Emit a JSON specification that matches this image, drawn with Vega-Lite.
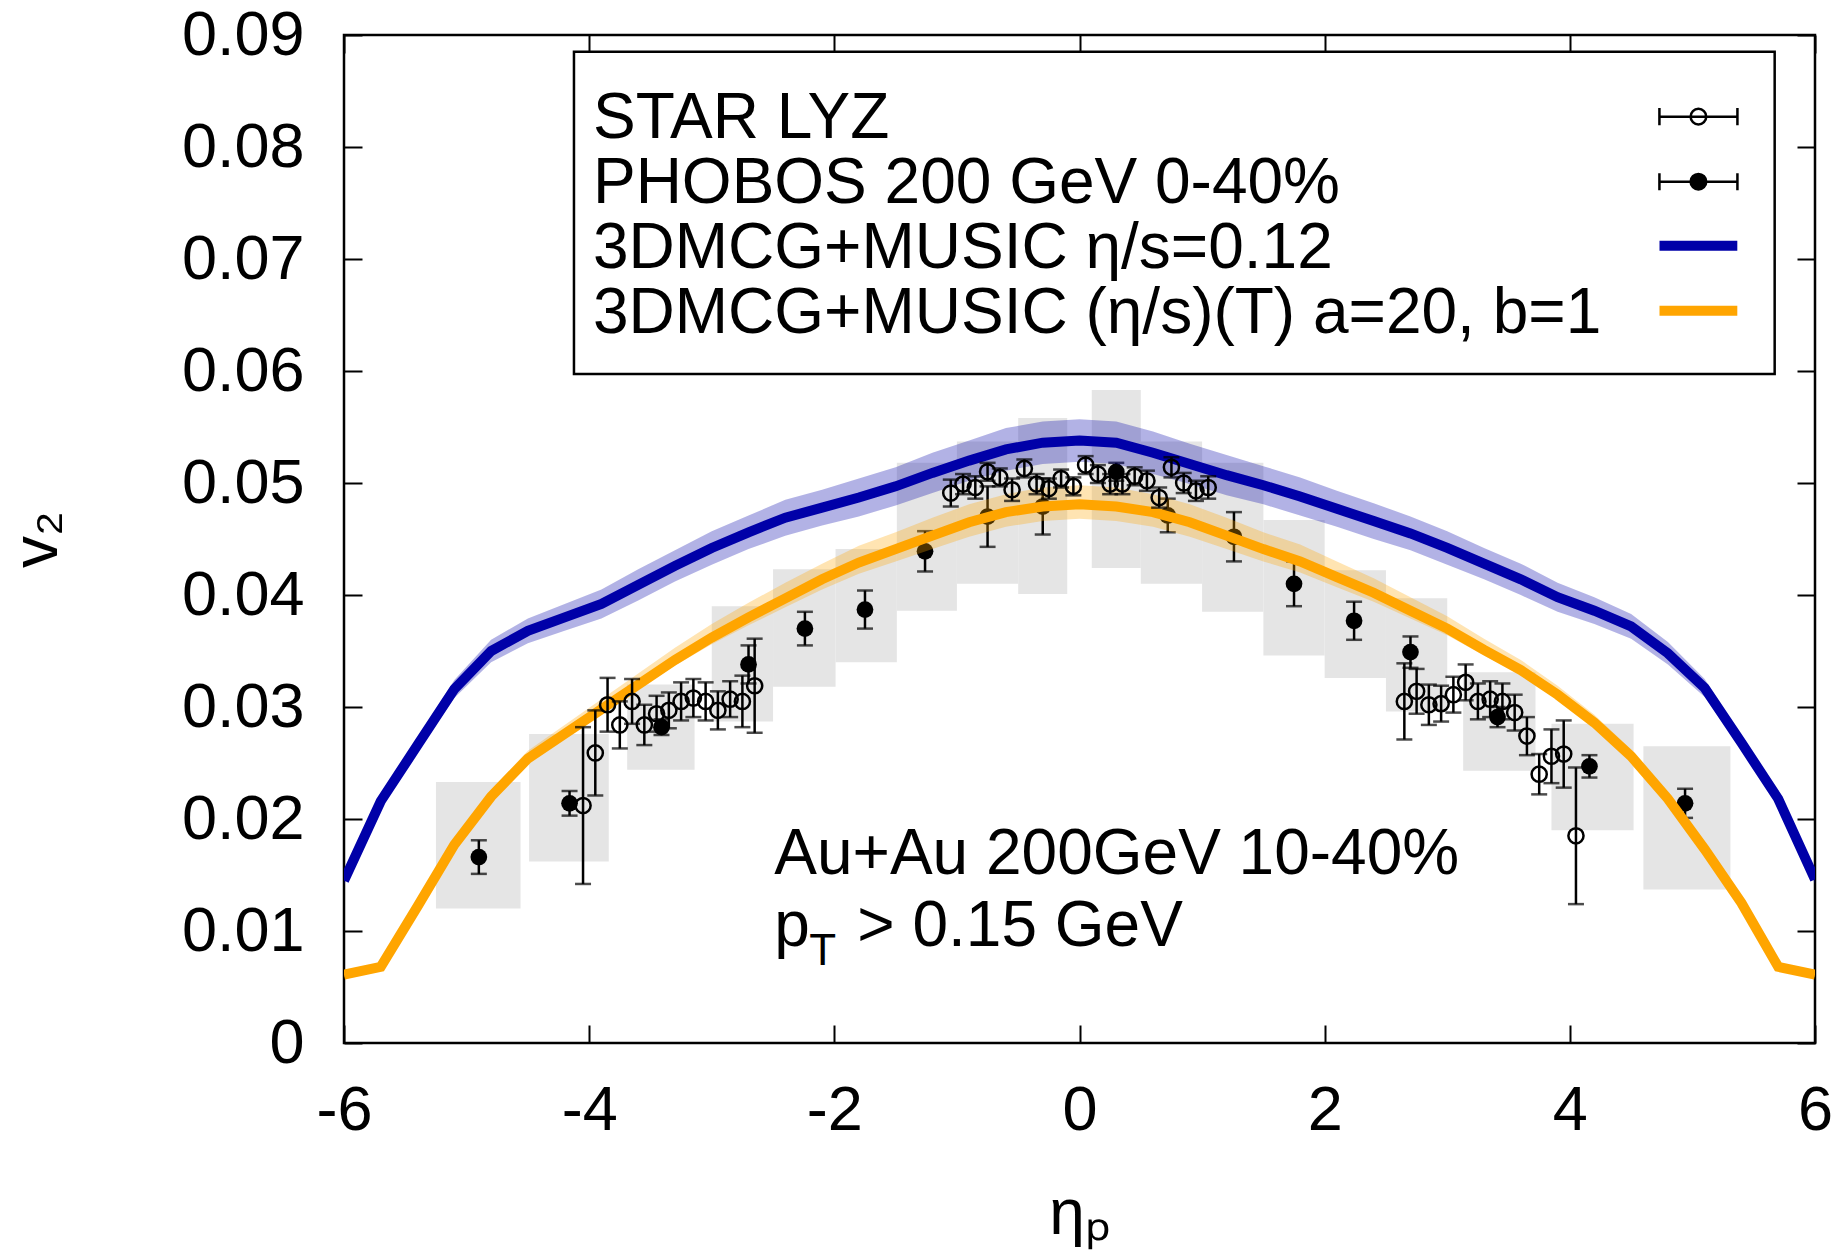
{
  "$schema": "https://vega.github.io/schema/vega-lite/v6.json",
  "width": 1471,
  "height": 1008,
  "autosize": {"type": "none"},
  "padding": {"left": 344, "top": 35, "right": 30, "bottom": 208},
  "background": "white",
  "config": {
    "font": "Liberation Sans",
    "view": {"stroke": "black", "strokeWidth": 2.5},
    "axis": {
      "grid": false, "domain": false, "tickColor": "black", "tickWidth": 2, "tickSize": -18,
      "labelColor": "black", "labelFont": "Liberation Sans", "labelFontSize": 63,
      "titleFont": "Liberation Sans", "titleFontSize": 64, "titleFontWeight": "normal", "titleColor": "black",
      "labelFlush": false, "labelOverlap": false
    }
  },
  "datasets": {
    "phobos": [
      {"eta": -4.90, "v2": 0.0166, "err": 0.0015, "sys_x_lo": -5.25, "sys_x_hi": -4.56, "sys_lo": 0.0120, "sys_hi": 0.0233},
      {"eta": -4.16, "v2": 0.0214, "err": 0.0011, "sys_x_lo": -4.49, "sys_x_hi": -3.84, "sys_lo": 0.0162, "sys_hi": 0.0276},
      {"eta": -3.41, "v2": 0.0282, "err": 0.0007, "sys_x_lo": -3.69, "sys_x_hi": -3.14, "sys_lo": 0.0244, "sys_hi": 0.0320},
      {"eta": -2.70, "v2": 0.0338, "err": 0.0017, "sys_x_lo": -3.00, "sys_x_hi": -2.50, "sys_lo": 0.0287, "sys_hi": 0.0390},
      {"eta": -2.24, "v2": 0.0370, "err": 0.0015, "sys_x_lo": -2.50, "sys_x_hi": -1.99, "sys_lo": 0.0318, "sys_hi": 0.0423},
      {"eta": -1.75, "v2": 0.0387, "err": 0.0017, "sys_x_lo": -1.99, "sys_x_hi": -1.49, "sys_lo": 0.0340, "sys_hi": 0.0441},
      {"eta": -1.26, "v2": 0.0439, "err": 0.0018, "sys_x_lo": -1.49, "sys_x_hi": -1.00, "sys_lo": 0.0386, "sys_hi": 0.0518},
      {"eta": -0.75, "v2": 0.0470, "err": 0.0027, "sys_x_lo": -1.00, "sys_x_hi": -0.50, "sys_lo": 0.0410, "sys_hi": 0.0537},
      {"eta": -0.30, "v2": 0.0479, "err": 0.0025, "sys_x_lo": -0.50, "sys_x_hi": -0.10, "sys_lo": 0.0401, "sys_hi": 0.0558},
      {"eta": 0.30, "v2": 0.0510, "err": 0.0008, "sys_x_lo": 0.10, "sys_x_hi": 0.50, "sys_lo": 0.0424, "sys_hi": 0.0583},
      {"eta": 0.72, "v2": 0.0471, "err": 0.0015, "sys_x_lo": 0.50, "sys_x_hi": 1.00, "sys_lo": 0.0410, "sys_hi": 0.0537},
      {"eta": 1.26, "v2": 0.0452, "err": 0.0022, "sys_x_lo": 1.00, "sys_x_hi": 1.50, "sys_lo": 0.0385, "sys_hi": 0.0518},
      {"eta": 1.75, "v2": 0.0410, "err": 0.0020, "sys_x_lo": 1.50, "sys_x_hi": 2.00, "sys_lo": 0.0346, "sys_hi": 0.0467},
      {"eta": 2.24, "v2": 0.0377, "err": 0.0017, "sys_x_lo": 2.00, "sys_x_hi": 2.50, "sys_lo": 0.0326, "sys_hi": 0.0422},
      {"eta": 2.70, "v2": 0.0349, "err": 0.0014, "sys_x_lo": 2.50, "sys_x_hi": 3.00, "sys_lo": 0.0296, "sys_hi": 0.0397},
      {"eta": 3.41, "v2": 0.0291, "err": 0.0009, "sys_x_lo": 3.13, "sys_x_hi": 3.72, "sys_lo": 0.0243, "sys_hi": 0.0331},
      {"eta": 4.16, "v2": 0.0247, "err": 0.0010, "sys_x_lo": 3.85, "sys_x_hi": 4.52, "sys_lo": 0.0190, "sys_hi": 0.0285},
      {"eta": 4.94, "v2": 0.0214, "err": 0.0013, "sys_x_lo": 4.60, "sys_x_hi": 5.31, "sys_lo": 0.0137, "sys_hi": 0.0265}
    ],
    "star": [
      {"eta": -4.05, "v2": 0.0212, "err": 0.0070},
      {"eta": -3.95, "v2": 0.0259, "err": 0.0038},
      {"eta": -3.85, "v2": 0.0302, "err": 0.0024},
      {"eta": -3.75, "v2": 0.0284, "err": 0.0021},
      {"eta": -3.65, "v2": 0.0305, "err": 0.0020},
      {"eta": -3.55, "v2": 0.0284, "err": 0.0018},
      {"eta": -3.45, "v2": 0.0294, "err": 0.0016},
      {"eta": -3.35, "v2": 0.0297, "err": 0.0016},
      {"eta": -3.25, "v2": 0.0305, "err": 0.0017},
      {"eta": -3.15, "v2": 0.0308, "err": 0.0017},
      {"eta": -3.05, "v2": 0.0305, "err": 0.0017},
      {"eta": -2.95, "v2": 0.0297, "err": 0.0017},
      {"eta": -2.85, "v2": 0.0307, "err": 0.0016},
      {"eta": -2.75, "v2": 0.0305, "err": 0.0023},
      {"eta": -2.65, "v2": 0.0319, "err": 0.0042},
      {"eta": -1.05, "v2": 0.0491, "err": 0.0012},
      {"eta": -0.95, "v2": 0.0499, "err": 0.0009},
      {"eta": -0.85, "v2": 0.0496, "err": 0.0010},
      {"eta": -0.75, "v2": 0.0510, "err": 0.0008},
      {"eta": -0.65, "v2": 0.0505, "err": 0.0008},
      {"eta": -0.55, "v2": 0.0494, "err": 0.0010},
      {"eta": -0.45, "v2": 0.0513, "err": 0.0008},
      {"eta": -0.35, "v2": 0.0499, "err": 0.0009},
      {"eta": -0.25, "v2": 0.0495, "err": 0.0009},
      {"eta": -0.15, "v2": 0.0504, "err": 0.0008},
      {"eta": -0.05, "v2": 0.0497, "err": 0.0008},
      {"eta": 0.05, "v2": 0.0516, "err": 0.0008},
      {"eta": 0.15, "v2": 0.0508, "err": 0.0008},
      {"eta": 0.25, "v2": 0.0499, "err": 0.0009},
      {"eta": 0.35, "v2": 0.0499, "err": 0.0009},
      {"eta": 0.45, "v2": 0.0506, "err": 0.0008},
      {"eta": 0.55, "v2": 0.0502, "err": 0.0009},
      {"eta": 0.65, "v2": 0.0487, "err": 0.0009},
      {"eta": 0.75, "v2": 0.0514, "err": 0.0009},
      {"eta": 0.85, "v2": 0.0500, "err": 0.0009},
      {"eta": 0.95, "v2": 0.0493, "err": 0.0009},
      {"eta": 1.05, "v2": 0.0496, "err": 0.0010},
      {"eta": 2.65, "v2": 0.0305, "err": 0.0034},
      {"eta": 2.75, "v2": 0.0314, "err": 0.0020},
      {"eta": 2.85, "v2": 0.0302, "err": 0.0018},
      {"eta": 2.95, "v2": 0.0303, "err": 0.0016},
      {"eta": 3.05, "v2": 0.0311, "err": 0.0016},
      {"eta": 3.15, "v2": 0.0322, "err": 0.0016},
      {"eta": 3.25, "v2": 0.0305, "err": 0.0016},
      {"eta": 3.35, "v2": 0.0307, "err": 0.0016},
      {"eta": 3.45, "v2": 0.0305, "err": 0.0016},
      {"eta": 3.55, "v2": 0.0295, "err": 0.0016},
      {"eta": 3.65, "v2": 0.0274, "err": 0.0017},
      {"eta": 3.75, "v2": 0.0240, "err": 0.0018},
      {"eta": 3.85, "v2": 0.0256, "err": 0.0024},
      {"eta": 3.95, "v2": 0.0258, "err": 0.0030},
      {"eta": 4.05, "v2": 0.0185, "err": 0.0061}
    ],
    "model": [
      {"series": "3DMCG+MUSIC η/s=0.12", "eta": -6.0, "v2": 0.0145, "lo": 0.0141, "hi": 0.0149},
      {"series": "3DMCG+MUSIC η/s=0.12", "eta": -5.7, "v2": 0.0216, "lo": 0.0211, "hi": 0.0221},
      {"series": "3DMCG+MUSIC η/s=0.12", "eta": -5.4, "v2": 0.0266, "lo": 0.0260, "hi": 0.0272},
      {"series": "3DMCG+MUSIC η/s=0.12", "eta": -5.1, "v2": 0.0316, "lo": 0.0308, "hi": 0.0324},
      {"series": "3DMCG+MUSIC η/s=0.12", "eta": -4.8, "v2": 0.0350, "lo": 0.0340, "hi": 0.0360},
      {"series": "3DMCG+MUSIC η/s=0.12", "eta": -4.5, "v2": 0.0368, "lo": 0.0357, "hi": 0.0379},
      {"series": "3DMCG+MUSIC η/s=0.12", "eta": -4.2, "v2": 0.0380, "lo": 0.0368, "hi": 0.0392},
      {"series": "3DMCG+MUSIC η/s=0.12", "eta": -3.9, "v2": 0.0392, "lo": 0.0379, "hi": 0.0405},
      {"series": "3DMCG+MUSIC η/s=0.12", "eta": -3.6, "v2": 0.0409, "lo": 0.0395, "hi": 0.0423},
      {"series": "3DMCG+MUSIC η/s=0.12", "eta": -3.3, "v2": 0.0426, "lo": 0.0412, "hi": 0.0440},
      {"series": "3DMCG+MUSIC η/s=0.12", "eta": -3.0, "v2": 0.0442, "lo": 0.0427, "hi": 0.0457},
      {"series": "3DMCG+MUSIC η/s=0.12", "eta": -2.7, "v2": 0.0456, "lo": 0.0441, "hi": 0.0471},
      {"series": "3DMCG+MUSIC η/s=0.12", "eta": -2.4, "v2": 0.0469, "lo": 0.0453, "hi": 0.0485},
      {"series": "3DMCG+MUSIC η/s=0.12", "eta": -2.1, "v2": 0.0478, "lo": 0.0462, "hi": 0.0494},
      {"series": "3DMCG+MUSIC η/s=0.12", "eta": -1.8, "v2": 0.0487, "lo": 0.0470, "hi": 0.0504},
      {"series": "3DMCG+MUSIC η/s=0.12", "eta": -1.5, "v2": 0.0497, "lo": 0.0480, "hi": 0.0514},
      {"series": "3DMCG+MUSIC η/s=0.12", "eta": -1.2, "v2": 0.0509, "lo": 0.0491, "hi": 0.0527},
      {"series": "3DMCG+MUSIC η/s=0.12", "eta": -0.9, "v2": 0.0520, "lo": 0.0502, "hi": 0.0538},
      {"series": "3DMCG+MUSIC η/s=0.12", "eta": -0.6, "v2": 0.0530, "lo": 0.0511, "hi": 0.0549},
      {"series": "3DMCG+MUSIC η/s=0.12", "eta": -0.3, "v2": 0.0536, "lo": 0.0517, "hi": 0.0555},
      {"series": "3DMCG+MUSIC η/s=0.12", "eta": 0.0, "v2": 0.0538, "lo": 0.0519, "hi": 0.0557},
      {"series": "3DMCG+MUSIC η/s=0.12", "eta": 0.3, "v2": 0.0536, "lo": 0.0517, "hi": 0.0555},
      {"series": "3DMCG+MUSIC η/s=0.12", "eta": 0.6, "v2": 0.0527, "lo": 0.0508, "hi": 0.0546},
      {"series": "3DMCG+MUSIC η/s=0.12", "eta": 0.9, "v2": 0.0517, "lo": 0.0499, "hi": 0.0535},
      {"series": "3DMCG+MUSIC η/s=0.12", "eta": 1.2, "v2": 0.0507, "lo": 0.0489, "hi": 0.0525},
      {"series": "3DMCG+MUSIC η/s=0.12", "eta": 1.5, "v2": 0.0498, "lo": 0.0481, "hi": 0.0515},
      {"series": "3DMCG+MUSIC η/s=0.12", "eta": 1.8, "v2": 0.0488, "lo": 0.0471, "hi": 0.0505},
      {"series": "3DMCG+MUSIC η/s=0.12", "eta": 2.1, "v2": 0.0477, "lo": 0.0461, "hi": 0.0493},
      {"series": "3DMCG+MUSIC η/s=0.12", "eta": 2.4, "v2": 0.0466, "lo": 0.0450, "hi": 0.0482},
      {"series": "3DMCG+MUSIC η/s=0.12", "eta": 2.7, "v2": 0.0455, "lo": 0.0440, "hi": 0.0470},
      {"series": "3DMCG+MUSIC η/s=0.12", "eta": 3.0, "v2": 0.0442, "lo": 0.0427, "hi": 0.0457},
      {"series": "3DMCG+MUSIC η/s=0.12", "eta": 3.3, "v2": 0.0428, "lo": 0.0414, "hi": 0.0442},
      {"series": "3DMCG+MUSIC η/s=0.12", "eta": 3.6, "v2": 0.0414, "lo": 0.0400, "hi": 0.0428},
      {"series": "3DMCG+MUSIC η/s=0.12", "eta": 3.9, "v2": 0.0398, "lo": 0.0385, "hi": 0.0411},
      {"series": "3DMCG+MUSIC η/s=0.12", "eta": 4.2, "v2": 0.0386, "lo": 0.0374, "hi": 0.0398},
      {"series": "3DMCG+MUSIC η/s=0.12", "eta": 4.5, "v2": 0.0372, "lo": 0.0361, "hi": 0.0383},
      {"series": "3DMCG+MUSIC η/s=0.12", "eta": 4.8, "v2": 0.0348, "lo": 0.0338, "hi": 0.0358},
      {"series": "3DMCG+MUSIC η/s=0.12", "eta": 5.1, "v2": 0.0317, "lo": 0.0309, "hi": 0.0325},
      {"series": "3DMCG+MUSIC η/s=0.12", "eta": 5.4, "v2": 0.0268, "lo": 0.0262, "hi": 0.0274},
      {"series": "3DMCG+MUSIC η/s=0.12", "eta": 5.7, "v2": 0.0218, "lo": 0.0213, "hi": 0.0223},
      {"series": "3DMCG+MUSIC η/s=0.12", "eta": 6.0, "v2": 0.0146, "lo": 0.0142, "hi": 0.0150},
      {"series": "3DMCG+MUSIC (η/s)(T) a=20, b=1", "eta": -6.0, "v2": 0.0061, "lo": 0.0059, "hi": 0.0064},
      {"series": "3DMCG+MUSIC (η/s)(T) a=20, b=1", "eta": -5.7, "v2": 0.0068, "lo": 0.0066, "hi": 0.0071},
      {"series": "3DMCG+MUSIC (η/s)(T) a=20, b=1", "eta": -5.4, "v2": 0.0122, "lo": 0.0120, "hi": 0.0126},
      {"series": "3DMCG+MUSIC (η/s)(T) a=20, b=1", "eta": -5.1, "v2": 0.0177, "lo": 0.0174, "hi": 0.0182},
      {"series": "3DMCG+MUSIC (η/s)(T) a=20, b=1", "eta": -4.8, "v2": 0.0220, "lo": 0.0217, "hi": 0.0226},
      {"series": "3DMCG+MUSIC (η/s)(T) a=20, b=1", "eta": -4.5, "v2": 0.0254, "lo": 0.0251, "hi": 0.0261},
      {"series": "3DMCG+MUSIC (η/s)(T) a=20, b=1", "eta": -4.2, "v2": 0.0276, "lo": 0.0273, "hi": 0.0284},
      {"series": "3DMCG+MUSIC (η/s)(T) a=20, b=1", "eta": -3.9, "v2": 0.0298, "lo": 0.0294, "hi": 0.0307},
      {"series": "3DMCG+MUSIC (η/s)(T) a=20, b=1", "eta": -3.6, "v2": 0.0320, "lo": 0.0316, "hi": 0.0330},
      {"series": "3DMCG+MUSIC (η/s)(T) a=20, b=1", "eta": -3.3, "v2": 0.0342, "lo": 0.0337, "hi": 0.0353},
      {"series": "3DMCG+MUSIC (η/s)(T) a=20, b=1", "eta": -3.0, "v2": 0.0362, "lo": 0.0356, "hi": 0.0374},
      {"series": "3DMCG+MUSIC (η/s)(T) a=20, b=1", "eta": -2.7, "v2": 0.0380, "lo": 0.0373, "hi": 0.0393},
      {"series": "3DMCG+MUSIC (η/s)(T) a=20, b=1", "eta": -2.4, "v2": 0.0397, "lo": 0.0389, "hi": 0.0411},
      {"series": "3DMCG+MUSIC (η/s)(T) a=20, b=1", "eta": -2.1, "v2": 0.0414, "lo": 0.0405, "hi": 0.0428},
      {"series": "3DMCG+MUSIC (η/s)(T) a=20, b=1", "eta": -1.8, "v2": 0.0429, "lo": 0.0419, "hi": 0.0444},
      {"series": "3DMCG+MUSIC (η/s)(T) a=20, b=1", "eta": -1.5, "v2": 0.0441, "lo": 0.0430, "hi": 0.0456},
      {"series": "3DMCG+MUSIC (η/s)(T) a=20, b=1", "eta": -1.2, "v2": 0.0453, "lo": 0.0441, "hi": 0.0469},
      {"series": "3DMCG+MUSIC (η/s)(T) a=20, b=1", "eta": -0.9, "v2": 0.0465, "lo": 0.0452, "hi": 0.0481},
      {"series": "3DMCG+MUSIC (η/s)(T) a=20, b=1", "eta": -0.6, "v2": 0.0474, "lo": 0.0461, "hi": 0.0490},
      {"series": "3DMCG+MUSIC (η/s)(T) a=20, b=1", "eta": -0.3, "v2": 0.0479, "lo": 0.0466, "hi": 0.0496},
      {"series": "3DMCG+MUSIC (η/s)(T) a=20, b=1", "eta": 0.0, "v2": 0.0481, "lo": 0.0468, "hi": 0.0498},
      {"series": "3DMCG+MUSIC (η/s)(T) a=20, b=1", "eta": 0.3, "v2": 0.0479, "lo": 0.0466, "hi": 0.0496},
      {"series": "3DMCG+MUSIC (η/s)(T) a=20, b=1", "eta": 0.6, "v2": 0.0474, "lo": 0.0461, "hi": 0.0490},
      {"series": "3DMCG+MUSIC (η/s)(T) a=20, b=1", "eta": 0.9, "v2": 0.0465, "lo": 0.0452, "hi": 0.0481},
      {"series": "3DMCG+MUSIC (η/s)(T) a=20, b=1", "eta": 1.2, "v2": 0.0453, "lo": 0.0441, "hi": 0.0469},
      {"series": "3DMCG+MUSIC (η/s)(T) a=20, b=1", "eta": 1.5, "v2": 0.0441, "lo": 0.0430, "hi": 0.0456},
      {"series": "3DMCG+MUSIC (η/s)(T) a=20, b=1", "eta": 1.8, "v2": 0.0430, "lo": 0.0420, "hi": 0.0445},
      {"series": "3DMCG+MUSIC (η/s)(T) a=20, b=1", "eta": 2.1, "v2": 0.0416, "lo": 0.0407, "hi": 0.0430},
      {"series": "3DMCG+MUSIC (η/s)(T) a=20, b=1", "eta": 2.4, "v2": 0.0402, "lo": 0.0394, "hi": 0.0415},
      {"series": "3DMCG+MUSIC (η/s)(T) a=20, b=1", "eta": 2.7, "v2": 0.0386, "lo": 0.0379, "hi": 0.0398},
      {"series": "3DMCG+MUSIC (η/s)(T) a=20, b=1", "eta": 3.0, "v2": 0.0370, "lo": 0.0364, "hi": 0.0381},
      {"series": "3DMCG+MUSIC (η/s)(T) a=20, b=1", "eta": 3.3, "v2": 0.0351, "lo": 0.0346, "hi": 0.0361},
      {"series": "3DMCG+MUSIC (η/s)(T) a=20, b=1", "eta": 3.6, "v2": 0.0333, "lo": 0.0329, "hi": 0.0342},
      {"series": "3DMCG+MUSIC (η/s)(T) a=20, b=1", "eta": 3.9, "v2": 0.0311, "lo": 0.0307, "hi": 0.0319},
      {"series": "3DMCG+MUSIC (η/s)(T) a=20, b=1", "eta": 4.2, "v2": 0.0286, "lo": 0.0283, "hi": 0.0293},
      {"series": "3DMCG+MUSIC (η/s)(T) a=20, b=1", "eta": 4.5, "v2": 0.0256, "lo": 0.0253, "hi": 0.0262},
      {"series": "3DMCG+MUSIC (η/s)(T) a=20, b=1", "eta": 4.8, "v2": 0.0218, "lo": 0.0215, "hi": 0.0223},
      {"series": "3DMCG+MUSIC (η/s)(T) a=20, b=1", "eta": 5.1, "v2": 0.0173, "lo": 0.0170, "hi": 0.0177},
      {"series": "3DMCG+MUSIC (η/s)(T) a=20, b=1", "eta": 5.4, "v2": 0.0125, "lo": 0.0123, "hi": 0.0128},
      {"series": "3DMCG+MUSIC (η/s)(T) a=20, b=1", "eta": 5.7, "v2": 0.0068, "lo": 0.0066, "hi": 0.0071},
      {"series": "3DMCG+MUSIC (η/s)(T) a=20, b=1", "eta": 6.0, "v2": 0.0061, "lo": 0.0059, "hi": 0.0064}
    ]
  },
  "layer": [
    {
      "data": {"name": "phobos"},
      "mark": {"type": "rect", "color": "#e5e5e5"},
      "encoding": {
        "x": {"field": "sys_x_lo", "type": "quantitative",
          "scale": {"domain": [-6, 6], "nice": false, "zero": false},
          "axis": {"orient": "bottom", "values": [-6, -4, -2, 0, 2, 4, 6], "labelExpr": "'' + datum.value", "labelPadding": 54, "title": "ηₚ", "titlePadding": 40}},
        "x2": {"field": "sys_x_hi"},
        "y": {"field": "sys_lo", "type": "quantitative",
          "scale": {"domain": [0, 0.09], "nice": false, "zero": false},
          "axis": {"orient": "left", "values": [0, 0.01, 0.02, 0.03, 0.04, 0.05, 0.06, 0.07, 0.08, 0.09], "format": ".2~f", "labelPadding": 58, "title": "v₂", "titlePadding": 112}},
        "y2": {"field": "sys_hi"}
      }
    },
    {
      "data": {"name": "phobos"},
      "mark": {"type": "errorbar", "ticks": true, "size": 16, "thickness": 2.5, "color": "black"},
      "encoding": {
        "x": {"field": "eta", "type": "quantitative", "axis": null},
        "y": {"field": "v2", "type": "quantitative", "axis": null},
        "yError": {"field": "err"}
      }
    },
    {
      "data": {"name": "phobos"},
      "mark": {"type": "point", "shape": "circle", "filled": true, "color": "black", "size": 280, "opacity": 1},
      "encoding": {
        "x": {"field": "eta", "type": "quantitative", "axis": null},
        "y": {"field": "v2", "type": "quantitative", "axis": null}
      }
    },
    {
      "data": {"name": "model"},
      "mark": {"type": "area", "opacity": 0.3, "clip": true},
      "encoding": {
        "x": {"field": "eta", "type": "quantitative", "axis": null},
        "y": {"field": "lo", "type": "quantitative", "axis": null},
        "y2": {"field": "hi"},
        "color": {"field": "series", "type": "nominal",
          "scale": {"domain": ["3DMCG+MUSIC η/s=0.12", "3DMCG+MUSIC (η/s)(T) a=20, b=1"], "range": ["#0000a8", "#ffa500"]},
          "legend": null}
      }
    },
    {
      "data": {"name": "model"},
      "mark": {"type": "line", "strokeWidth": 10, "clip": true, "strokeCap": "butt"},
      "encoding": {
        "x": {"field": "eta", "type": "quantitative",
          "axis": {"orient": "top", "values": [-6, -4, -2, 0, 2, 4, 6], "labels": false, "title": null}},
        "y": {"field": "v2", "type": "quantitative",
          "axis": {"orient": "right", "values": [0, 0.01, 0.02, 0.03, 0.04, 0.05, 0.06, 0.07, 0.08, 0.09], "labels": false, "title": null}},
        "color": {"field": "series", "type": "nominal", "legend": null}
      }
    },
    {
      "data": {"name": "star"},
      "mark": {"type": "errorbar", "ticks": true, "size": 16, "thickness": 2.5, "color": "black"},
      "encoding": {
        "x": {"field": "eta", "type": "quantitative", "axis": null},
        "y": {"field": "v2", "type": "quantitative", "axis": null},
        "yError": {"field": "err"}
      }
    },
    {
      "data": {"name": "star"},
      "mark": {"type": "point", "shape": "circle", "filled": false, "color": "black", "strokeWidth": 2.5, "size": 230, "opacity": 1},
      "encoding": {
        "x": {"field": "eta", "type": "quantitative", "axis": null},
        "y": {"field": "v2", "type": "quantitative", "axis": null}
      }
    },
    {
      "data": {"values": [{"note": "Au+Au 200GeV 10-40%"}]},
      "mark": {"type": "text", "align": "left", "baseline": "alphabetic", "fontSize": 64, "font": "Liberation Sans", "color": "black"},
      "encoding": {
        "x": {"datum": -2.49, "type": "quantitative", "axis": null},
        "y": {"datum": 0.01506, "type": "quantitative", "axis": null},
        "text": {"field": "note"}
      }
    },
    {
      "data": {"values": [{"note": "p"}]},
      "mark": {"type": "text", "align": "left", "baseline": "alphabetic", "fontSize": 64, "font": "Liberation Sans", "color": "black"},
      "encoding": {
        "x": {"datum": -2.49, "type": "quantitative", "axis": null},
        "y": {"datum": 0.00866, "type": "quantitative", "axis": null},
        "text": {"field": "note"}
      }
    },
    {
      "data": {"values": [{"note": "T"}]},
      "mark": {"type": "text", "align": "left", "baseline": "alphabetic", "fontSize": 44, "font": "Liberation Sans", "color": "black", "dx": 35, "dy": 19},
      "encoding": {
        "x": {"datum": -2.49, "type": "quantitative", "axis": null},
        "y": {"datum": 0.00866, "type": "quantitative", "axis": null},
        "text": {"field": "note"}
      }
    },
    {
      "data": {"values": [{"note": "> 0.15 GeV"}]},
      "mark": {"type": "text", "align": "left", "baseline": "alphabetic", "fontSize": 64, "font": "Liberation Sans", "color": "black", "dx": 83},
      "encoding": {
        "x": {"datum": -2.49, "type": "quantitative", "axis": null},
        "y": {"datum": 0.00866, "type": "quantitative", "axis": null},
        "text": {"field": "note"}
      }
    },
    {
      "data": {"values": [{"legend": "key box"}]},
      "mark": {"type": "rect", "fill": "white", "stroke": "black", "strokeWidth": 2.5},
      "encoding": {
        "x": {"datum": -4.124, "type": "quantitative", "axis": null},
        "x2": {"datum": 5.671},
        "y": {"datum": 0.05973, "type": "quantitative", "axis": null},
        "y2": {"datum": 0.08851}
      }
    },
    {
      "data": {"values": [{"label": "STAR LYZ"}]},
      "mark": {"type": "text", "align": "left", "baseline": "alphabetic", "fontSize": 64, "font": "Liberation Sans", "color": "black"},
      "encoding": {
        "x": {"datum": -3.969, "type": "quantitative", "axis": null},
        "y": {"datum": 0.08078, "type": "quantitative", "axis": null},
        "text": {"field": "label"}
      }
    },
    {
      "data": {"values": [{"label": "PHOBOS 200 GeV 0-40%"}]},
      "mark": {"type": "text", "align": "left", "baseline": "alphabetic", "fontSize": 64, "font": "Liberation Sans", "color": "black"},
      "encoding": {
        "x": {"datum": -3.969, "type": "quantitative", "axis": null},
        "y": {"datum": 0.07498, "type": "quantitative", "axis": null},
        "text": {"field": "label"}
      }
    },
    {
      "data": {"values": [{"label": "3DMCG+MUSIC η/s=0.12"}]},
      "mark": {"type": "text", "align": "left", "baseline": "alphabetic", "fontSize": 64, "font": "Liberation Sans", "color": "black"},
      "encoding": {
        "x": {"datum": -3.969, "type": "quantitative", "axis": null},
        "y": {"datum": 0.06917, "type": "quantitative", "axis": null},
        "text": {"field": "label"}
      }
    },
    {
      "data": {"values": [{"label": "3DMCG+MUSIC (η/s)(T) a=20, b=1"}]},
      "mark": {"type": "text", "align": "left", "baseline": "alphabetic", "fontSize": 64, "font": "Liberation Sans", "color": "black"},
      "encoding": {
        "x": {"datum": -3.969, "type": "quantitative", "axis": null},
        "y": {"datum": 0.06342, "type": "quantitative", "axis": null},
        "text": {"field": "label"}
      }
    },
    {
      "data": {"values": [{"series": "STAR LYZ"}]},
      "mark": {"type": "point", "shape": "M-1,0H1M-1,-0.22V0.22M1,-0.22V0.22M0.2,0A0.2,0.2,0,1,1,-0.2,0A0.2,0.2,0,1,1,0.2,0Z", "size": 6084, "filled": false, "stroke": "black", "strokeWidth": 2.5, "opacity": 1},
      "encoding": {
        "x": {"datum": 5.049, "type": "quantitative", "axis": null},
        "y": {"datum": 0.08271, "type": "quantitative", "axis": null}
      }
    },
    {
      "data": {"values": [{"series": "PHOBOS 200 GeV 0-40%"}]},
      "mark": {"type": "point", "shape": "M-1,0H1M-1,-0.22V0.22M1,-0.22V0.22M0.2,0A0.2,0.2,0,1,1,-0.2,0A0.2,0.2,0,1,1,0.2,0Z", "size": 6084, "filled": true, "fill": "black", "stroke": "black", "strokeWidth": 2.5, "opacity": 1},
      "encoding": {
        "x": {"datum": 5.049, "type": "quantitative", "axis": null},
        "y": {"datum": 0.0769, "type": "quantitative", "axis": null}
      }
    },
    {
      "data": {"values": [{"series": "3DMCG+MUSIC η/s=0.12"}]},
      "mark": {"type": "rule", "color": "#0000a8", "strokeWidth": 10},
      "encoding": {
        "x": {"datum": 4.7315, "type": "quantitative", "axis": null},
        "x2": {"datum": 5.3662},
        "y": {"datum": 0.07119, "type": "quantitative", "axis": null}
      }
    },
    {
      "data": {"values": [{"series": "3DMCG+MUSIC (η/s)(T) a=20, b=1"}]},
      "mark": {"type": "rule", "color": "#ffa500", "strokeWidth": 10},
      "encoding": {
        "x": {"datum": 4.7315, "type": "quantitative", "axis": null},
        "x2": {"datum": 5.3662},
        "y": {"datum": 0.06539, "type": "quantitative", "axis": null}
      }
    }
  ],
  "resolve": {"axis": {"x": "independent", "y": "independent"}}
}
